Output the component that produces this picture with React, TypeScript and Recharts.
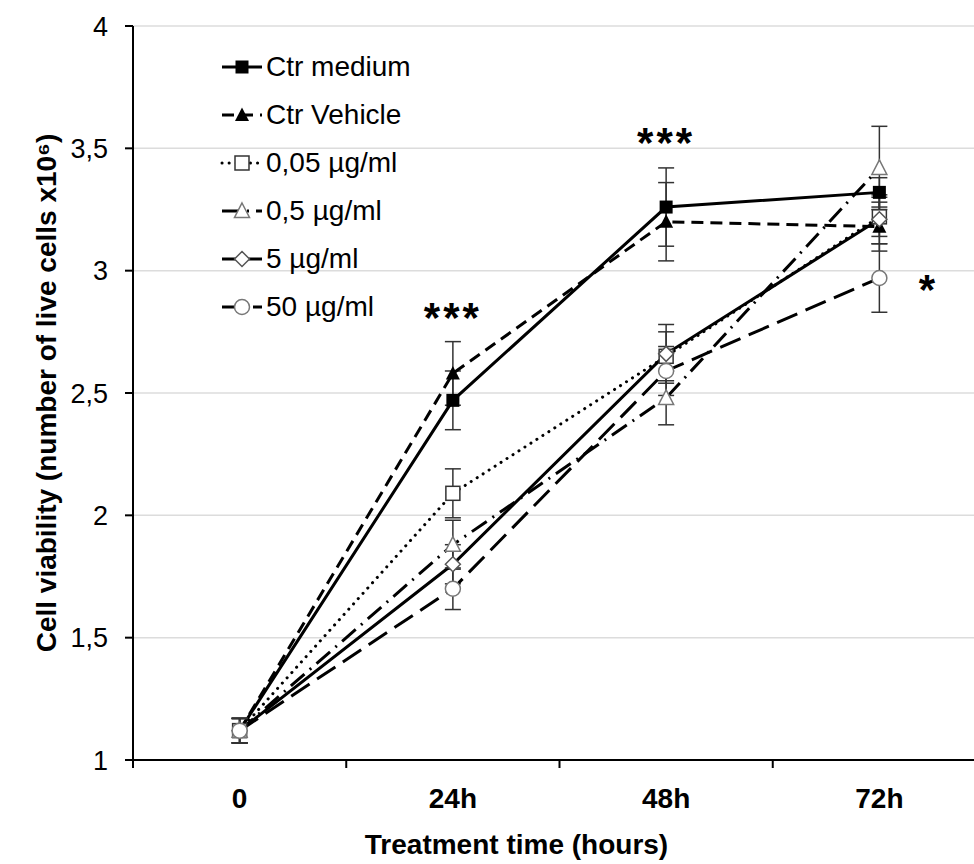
import React from 'react';
import { LineChart, Line, XAxis, YAxis, CartesianGrid, ErrorBar, Legend, ReferenceDot } from 'recharts';

const font = '"Liberation Sans", Arial, sans-serif';

// time points (x index 0..3)
const hours = ['0', '24h', '48h', '72h'];

// mean cell counts (x10^6)
const ctrMedium = [1.12, 2.47, 3.26, 3.32];
const ctrVehicle = [1.12, 2.58, 3.2, 3.18];
const dose005 = [1.12, 2.09, 2.65, 3.22];
const dose05 = [1.12, 1.88, 2.48, 3.42];
const dose5 = [1.12, 1.8, 2.66, 3.21];
const dose50 = [1.12, 1.7, 2.59, 2.97];

// error bars (+/-)
const ctrMediumErr = [0.05, 0.12, 0.16, 0.06];
const ctrVehicleErr = [0.05, 0.13, 0.16, 0.1];
const dose005Err = [0.05, 0.1, 0.1, 0.08];
const dose05Err = [0.05, 0.1, 0.11, 0.17];
const dose5Err = [0.05, 0.08, 0.12, 0.1];
const dose50Err = [0.05, 0.085, 0.1, 0.14];

const yTicks = [1, 1.5, 2, 2.5, 3, 3.5, 4];
const xTicks = [-0.5, 0, 0.5, 1, 1.5, 2, 2.5, 3, 3.5];

// significance marks: [x index, y value, text]
const stars: [number, number, string][] = [
  [1, 2.81, '***'],
  [2, 3.525, '***'],
  [3, 2.925, '*'],
];

const data = hours.map((h, i) => ({
  x: i,
  medium: ctrMedium[i],
  mediumErr: ctrMediumErr[i],
  vehicle: ctrVehicle[i],
  vehicleErr: ctrVehicleErr[i],
  d005: dose005[i],
  d005Err: dose005Err[i],
  d05: dose05[i],
  d05Err: dose05Err[i],
  d5: dose5[i],
  d5Err: dose5Err[i],
  d50: dose50[i],
  d50Err: dose50Err[i],
}));

type Kind = 'fsquare' | 'ftri' | 'osquare' | 'otri' | 'odiam' | 'ocirc';

const series: { key: string; name: string; dash?: string; cap?: 'round' | 'butt'; kind: Kind }[] = [
  { key: 'medium', name: 'Ctr medium', kind: 'fsquare' },
  { key: 'vehicle', name: 'Ctr Vehicle', dash: '12 7', kind: 'ftri' },
  { key: 'd005', name: '0,05 µg/ml', dash: '0.1 7', cap: 'round', kind: 'osquare' },
  { key: 'd05', name: '0,5 µg/ml', dash: '18 7 2 7', kind: 'otri' },
  { key: 'd5', name: '5 µg/ml', kind: 'odiam' },
  { key: 'd50', name: '50 µg/ml', dash: '22 9', kind: 'ocirc' },
];

function Marker({ cx, cy, kind }: { cx: number; cy: number; kind: Kind }) {
  switch (kind) {
    case 'fsquare':
      return <rect x={cx - 6.5} y={cy - 6.5} width={13} height={13} fill="#000" />;
    case 'ftri':
      return <polygon points={`${cx},${cy - 7.5} ${cx + 7},${cy + 6} ${cx - 7},${cy + 6}`} fill="#000" />;
    case 'osquare':
      return <rect x={cx - 7} y={cy - 7} width={14} height={14} fill="#fff" stroke="#333" strokeWidth={1.5} />;
    case 'otri':
      return (
        <polygon
          points={`${cx},${cy - 8} ${cx + 7.5},${cy + 6.5} ${cx - 7.5},${cy + 6.5}`}
          fill="#fff"
          stroke="#777"
          strokeWidth={1.5}
        />
      );
    case 'odiam':
      return (
        <polygon
          points={`${cx},${cy - 7.5} ${cx + 7.5},${cy} ${cx},${cy + 7.5} ${cx - 7.5},${cy}`}
          fill="#fff"
          stroke="#555"
          strokeWidth={1.5}
        />
      );
    default:
      return <circle cx={cx} cy={cy} r={7.5} fill="#fff" stroke="#777" strokeWidth={1.5} />;
  }
}

const XTick = (props: any) => {
  const { x, y, payload } = props;
  const v = payload.value;
  if (Number.isInteger(v)) {
    return (
      <text x={x} y={y + 48} textAnchor="middle" fontSize={28} fontWeight="bold" fontFamily={font} fill="#000">
        {hours[v]}
      </text>
    );
  }
  return <line x1={x} y1={y} x2={x} y2={y + 8} stroke="#000" strokeWidth={2} />;
};

const LegendContent = () => (
  <div style={{ fontFamily: font, fontSize: 28, color: '#000' }}>
    {series.map((s) => (
      <div key={s.key} style={{ display: 'flex', alignItems: 'center', height: 48 }}>
        <svg width={46} height={20}>
          <line
            x1={2}
            y1={10}
            x2={42}
            y2={10}
            stroke="#000"
            strokeWidth={3}
            strokeDasharray={s.dash}
            strokeLinecap={s.cap || 'butt'}
          />
          <Marker cx={22} cy={10} kind={s.kind} />
        </svg>
        <span style={{ lineHeight: '30px' }}>{s.name}</span>
      </div>
    ))}
  </div>
);

export default function App() {
  return (
    <div
      style={{
        position: 'absolute',
        left: 0,
        top: 0,
        width: 974,
        height: 864,
        overflow: 'hidden',
        background: '#fff',
      }}
    >
      <LineChart width={1000} height={864} data={data} margin={{ top: 26, right: 14, bottom: 0, left: 0 }}>
        <CartesianGrid vertical={false} stroke="#dcdcdc" strokeWidth={1.5} />
        <XAxis
          dataKey="x"
          type="number"
          domain={[-0.5, 3.5]}
          ticks={xTicks}
          interval={0}
          height={104}
          tickLine={false}
          tickSize={0}
          tickMargin={0}
          tick={<XTick />}
          axisLine={{ stroke: '#000', strokeWidth: 2 }}
          label={{
            value: 'Treatment time (hours)',
            position: 'insideBottom',
            offset: 10,
            dx: -43,
            style: { fontSize: 28, fontWeight: 'bold', fontFamily: font, fill: '#000' },
          }}
        />
        <YAxis
          type="number"
          domain={[1, 4]}
          ticks={yTicks}
          interval={0}
          width={133}
          tickSize={8}
          tickMargin={17}
          tickFormatter={(v: number) => String(v).replace('.', ',')}
          tick={{ fontSize: 27, fill: '#000', fontFamily: font }}
          tickLine={{ stroke: '#000', strokeWidth: 2 }}
          axisLine={{ stroke: '#000', strokeWidth: 2 }}
          label={{
            value: 'Cell viability (number of live cells x10⁶)',
            angle: -90,
            position: 'center',
            dx: -20,
            style: { fontSize: 28, fontWeight: 'bold', fontFamily: font, fill: '#000', textAnchor: 'middle' },
          }}
        />
        <Legend
          layout="vertical"
          align="center"
          verticalAlign="middle"
          content={() => <LegendContent />}
          wrapperStyle={{ left: 220, top: 43, width: 300 }}
        />
        {series.map((s) => (
          <Line
            key={s.key}
            dataKey={s.key}
            name={s.name}
            type="linear"
            stroke="#000"
            strokeWidth={3}
            strokeDasharray={s.dash}
            strokeLinecap={s.cap || 'butt'}
            isAnimationActive={false}
            dot={(p: any) => <Marker key={`${s.key}-${p.index}`} cx={p.cx} cy={p.cy} kind={s.kind} />}
            activeDot={false}
          >
            <ErrorBar dataKey={`${s.key}Err`} direction="y" width={8} stroke="#333" strokeWidth={1.5} />
          </Line>
        ))}
        {stars.map(([x, y, t], i) => (
          <ReferenceDot
            key={i}
            x={x}
            y={y}
            r={1}
            fill="none"
            stroke="none"
            label={{
              value: t,
              position: 'center',
              dx: t.length === 1 ? 49 : 0,
              style: { fontSize: 42, fontWeight: 'bold', fontFamily: font, fill: '#000', letterSpacing: 3 },
            }}
          />
        ))}
      </LineChart>
    </div>
  );
}
